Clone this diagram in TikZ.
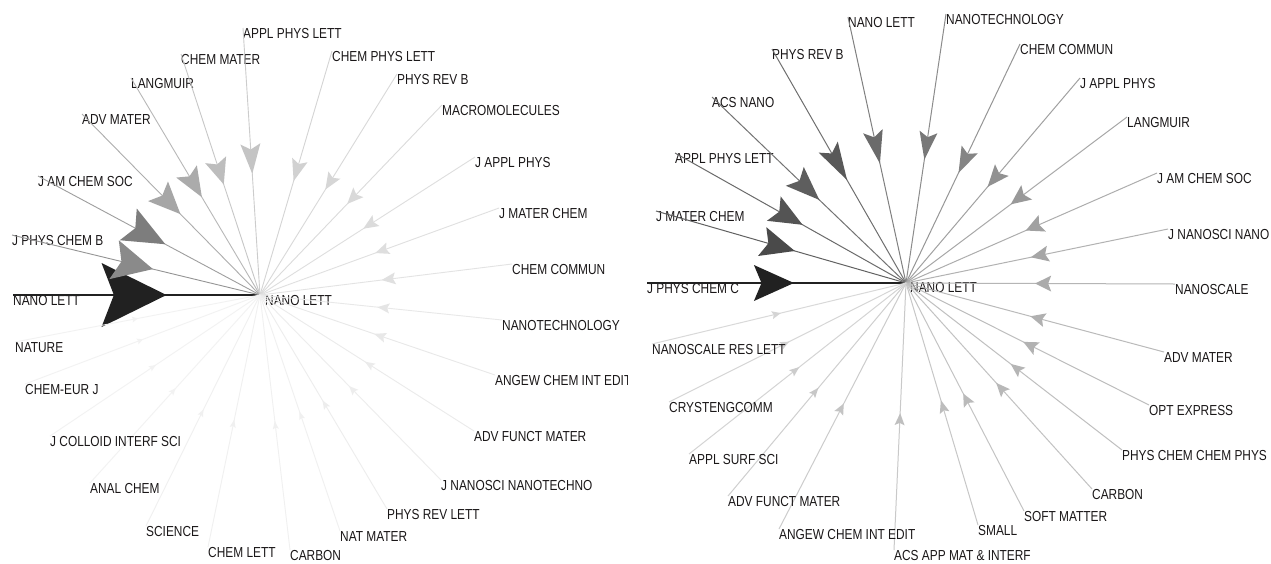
\documentclass[tikz,border=0pt]{standalone}
\usepackage{fontspec}
\setmainfont{Liberation Sans}[FakeStretch=0.82]
\usetikzlibrary{decorations.markings}
\definecolor{ink}{HTML}{1A1718}
\tikzset{
  lab/.style={anchor=north west, inner sep=0pt, text height=10.4pt, text depth=0pt,
    text=ink, font=\fontsize{14.5}{16}\selectfont},
}
% one weighted link from an outer journal to the hub; the head sits half way along
\newcommand{\wlink}[7]{% from, to, line darkness, head darkness, head length, head half width, line width
  \draw[draw=black!#3, line width=#7,
    postaction={decorate, decoration={markings, mark=at position 0.49 with {
      \fill[black!#4] (#5/2,0) -- (-#5/2,#6) -- (-#5/2+0.19*#5,0) -- (-#5/2,-#6) -- cycle;}}}]
    (#1.north west) -- (#2);}
\begin{document}
\begin{tikzpicture}[x=1pt, y=-1pt]
\useasboundingbox (0,0) rectangle (1271,563);
\fill[white] (0,0) rectangle (1271,563);

% ---------------- first star: citing journals of NANO LETT ----------------
\begin{scope}
\clip (0,0) rectangle (627,563);
\coordinate (cL) at (260,295);
\node[lab] (hubL) at (265,295) {NANO LETT};
\foreach \nm/\xx/\yy/\tx/\dk/\lk/\al/\aw/\lw in {
  a1/13/295/NANO LETT/87/87/65/32/2,
  a2/12/235/J PHYS CHEM B/46/42/40/20/0.9,
  a3/38/176/J AM CHEM SOC/51/38/42/18/0.9,
  a4/82/114/ADV MATER/35/32/32/14/0.9,
  a5/131/78/LANGMUIR/33/28/30/12/0.9,
  a6/181/54/CHEM MATER/26/22/26/11/0.9,
  a7/243/28/APPL PHYS LETT/23/20/30/10/0.9,
  a8/332/51/CHEM PHYS LETT/18/17/22/8/0.9,
  a9/397/74/PHYS REV B/16/15/17/7/0.9,
  a10/442/105/MACROMOLECULES/15/14/16/7/0.9,
  a11/475/157/J APPL PHYS/14/13/15/6.5/0.9,
  a12/499/208/J MATER CHEM/13/12/14/6/0.9,
  a13/512/264/CHEM COMMUN/12/11/14/6/0.9,
  a14/502/320/NANOTECHNOLOGY/10/9/12/5/0.9,
  a15/495/375/ANGEW CHEM INT EDIT/9/9/12/5/0.9,
  a16/474/431/ADV FUNCT MATER/8/8/10/4/0.9,
  a17/441/480/J NANOSCI NANOTECHNO/7/7/9/4/0.9,
  a18/387/509/PHYS REV LETT/7/7/9/3.5/0.9,
  a19/340/531/NAT MATER/6/6/8/3/0.9,
  a20/290/550/CARBON/6/6/8/3/0.9,
  a21/208/547/CHEM LETT/6/6/8/3/0.9,
  a22/146/526/SCIENCE/6/6/7/3/0.9,
  a23/90/483/ANAL CHEM/5/5/7/3/0.9,
  a24/50/436/J COLLOID INTERF SCI/5/5/7/3/0.9,
  a25/25/384/CHEM-EUR J/5/5/6/3/0.9,
  a26/15/342/NATURE/5/5/6/3/0.9}{
  \node[lab] (\nm) at (\xx,\yy) {\tx};
  \wlink{\nm}{cL}{\lk}{\dk}{\al}{\aw}{\lw pt}
}
\end{scope}

% ---------------- second star: citing journals of NANO LETT ----------------
\coordinate (cR) at (906,283);
\node[lab] (hubR) at (910,282) {NANO LETT};
\foreach \nm/\xx/\yy/\tx/\dk/\lk/\al/\aw/\lw in {
  b1/647/283/J PHYS CHEM C/87/87/40/18/1.3,
  b2/656/211/J MATER CHEM/71/62/34/15/1,
  b3/675/153/APPL PHYS LETT/67/58/33/14/1,
  b4/712/97/ACS NANO/63/55/34/13/1,
  b5/772/49/PHYS REV B/65/56/38/11/1,
  b6/848/17/NANO LETT/58/50/33/10/1,
  b7/946/14/NANOTECHNOLOGY/53/45/28/9/1,
  b8/1020/44/CHEM COMMUN/48/41/26/9/1,
  b9/1080/78/J APPL PHYS/43/37/22/9/1,
  b10/1127/117/LANGMUIR/40/34/20/9/1,
  b11/1157/173/J AM CHEM SOC/37/32/18/9/1,
  b12/1168/229/J NANOSCI NANO/35/30/18/8/1,
  b13/1175/284/NANOSCALE/33/29/16/8/1,
  b14/1164/352/ADV MATER/31/27/15/7/1,
  b15/1149/405/OPT EXPRESS/30/26/15/7/1,
  b16/1122/450/PHYS CHEM CHEM PHYS/29/25/14/6/1,
  b17/1092/489/CARBON/28/24/14/6/1,
  b18/1024/511/SOFT MATTER/27/23/13/6/1,
  b19/978/525/SMALL/26/22/13/5/1,
  b20/894/550/ACS APP MAT \& INTERF/25/21/12/5/1,
  b21/779/529/ANGEW CHEM INT EDIT/23/20/11/5/1,
  b22/728/496/ADV FUNCT MATER/22/19/10/4/1,
  b23/689/454/APPL SURF SCI/20/17/10/4/1,
  b24/669/402/CRYSTENGCOMM/18/16/9/4/1,
  b25/652/344/NANOSCALE RES LETT/17/15/9/4/1}{
  \node[lab] (\nm) at (\xx,\yy) {\tx};
  \wlink{\nm}{cR}{\lk}{\dk}{\al}{\aw}{\lw pt}
}
\end{tikzpicture}
\end{document}
